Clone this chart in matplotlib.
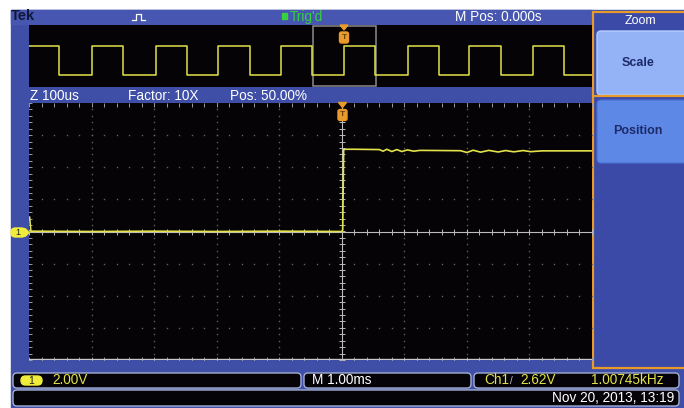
import numpy as np
import matplotlib
matplotlib.use('Agg')
import matplotlib.pyplot as plt
from matplotlib.patches import Rectangle, FancyBboxPatch, Polygon

plt.rcParams['font.family'] = ['Liberation Sans', 'DejaVu Sans']

# zoomed window trace, ch1 (time in us, volts)
zoom_t = [-500, -499, -497, -400, -300, -200, -100, 0, 1.5, 3, 6, 20, 60, 66, 72, 80, 88, 96, 105,
          115, 125, 160, 190, 200, 210, 222, 235, 250, 262, 275, 290, 302, 320, 360, 400]
zoom_v = [0.9, 0.9, 0.02, 0.0, 0.02, 0.0, 0.02, 0.0, 0.1, 5.1, 5.12, 5.12, 5.1, 5.0, 5.12, 4.98, 5.1,
          4.98, 5.08, 5.0, 5.05, 5.04, 5.03, 4.92, 5.06, 4.94, 5.05, 4.95, 5.04, 4.96, 5.04, 4.97,
          5.02, 5.02, 5.02]

# overview record edges (ms)
rise_ms = [-4.99, -3.99, -2.97, -1.98, -0.97, 0.04, 1.06, 2.04, 3.06]
fall_ms = [-4.52, -3.50, -2.48, -1.47, -0.47, 0.53, 1.55, 2.54, 3.55]
v_high, v_low = 5.0, 0.0

zoom_factor = 10
zoom_div_us = 100
trig_ms = 0.04

header = {'mpos': 'M Pos: 0.000s', 'trig': "Trig'd"}
zoom_labels = ['Z 100us', 'Factor: 10X', 'Pos: 50.00%']
status = ['2.00V', 'M 1.00ms', 'Ch1', '2.62V', '1.00745kHz']
date_str = 'Nov 20, 2013, 13:19'

BLUE = '#3f4ea6'
YEL = '#e2e24a'
ORANGE = '#e89a2a'
FS = 9.8

fig = plt.figure(figsize=(6.84, 4.08), dpi=100)
fig.patch.set_facecolor('white')

bg = fig.add_axes([0, 0, 1, 1])
bg.set_xlim(0, 684)
bg.set_ylim(408, 0)
bg.axis('off')

# screen surround
bg.add_patch(Rectangle((11, 10), 673, 398, color=BLUE, zorder=0))
bg.add_patch(Rectangle((11, 10), 581, 14, color='#4756b0', zorder=0.5))

# header row
bg.text(11, 16, 'Tek', color='#10183a', fontsize=10.5, fontweight='bold', va='center')
bg.plot([132, 136, 136, 141, 141, 145], [20, 20, 13.5, 13.5, 20, 20], color='white', lw=0.9)
bg.add_patch(Rectangle((282, 13), 5, 6, color='#36d040'))
bg.text(290, 17, header['trig'], color='#36d040', fontsize=FS, va='center')
bg.text(455, 17, header['mpos'], color='white', fontsize=FS, va='center')

# zoom label row
for x, s in zip([30, 128, 230], zoom_labels):
    bg.text(x, 96, s, color='white', fontsize=FS, va='center')

# right menu panel
bg.add_patch(Rectangle((593, 12), 95, 356, facecolor='#3b4aa6', edgecolor=ORANGE, lw=1.6, zorder=1))
bg.text(640, 21, 'Zoom', color='white', fontsize=9, ha='center', va='center', zorder=3)
bg.add_patch(FancyBboxPatch((597, 31), 90, 64, boxstyle='round,pad=0,rounding_size=4',
                            facecolor='#94b2f6', edgecolor='#b4ccff', lw=1.0, zorder=2))
bg.plot([595, 684], [96, 96], color=ORANGE, lw=1.6, zorder=2.5)
bg.text(638, 63, 'Scale', color='#1c2a6a', fontsize=9, fontweight='bold', ha='center', va='center', zorder=3)
bg.add_patch(FancyBboxPatch((597, 100), 90, 63, boxstyle='round,pad=0,rounding_size=4',
                            facecolor='#5e88e6', edgecolor='#4a70d0', lw=0.8, zorder=2))
bg.text(638, 131, 'Position', color='#1c2a6a', fontsize=9, fontweight='bold', ha='center', va='center', zorder=3)

# status bars
def bar(x0, x1, y0, y1):
    bg.add_patch(FancyBboxPatch((x0, y0), x1 - x0, y1 - y0, boxstyle='round,pad=0,rounding_size=4',
                                facecolor='#050308', edgecolor='#a4aed0', lw=1.0, zorder=2))

bar(13, 301, 373, 388)
bar(304, 471, 373, 388)
bar(474, 679, 373, 388)
bar(13, 679, 390, 406)
bg.add_patch(FancyBboxPatch((21, 376), 21, 9, boxstyle='round,pad=0,rounding_size=4.5',
                            color='#f0ec3a', zorder=3))
bg.text(31.5, 380.8, '1', color='#202020', fontsize=7.5, ha='center', va='center', zorder=4)
bg.text(52, 380.5, status[0], color=YEL, fontsize=FS, va='center', zorder=4)
bg.text(312, 380.5, status[1], color='white', fontsize=FS, va='center', zorder=4)
bg.text(484, 380.5, status[2], color=YEL, fontsize=FS, va='center', zorder=4)
bg.text(510, 380.5, '/', color='#c8c8c8', fontsize=7, va='center', zorder=4)
bg.text(520, 380.5, status[3], color=YEL, fontsize=FS, va='center', zorder=4)
bg.text(664, 380.5, status[4], color=YEL, fontsize=FS, va='center', ha='right', zorder=4)
bg.text(674, 398.5, date_str, color='white', fontsize=FS, va='center', ha='right', zorder=4)

# ch1 ground marker
bg.add_patch(FancyBboxPatch((11, 228), 15, 9, boxstyle='round,pad=0,rounding_size=4.5',
                            color='#f0ec3a', zorder=3))
bg.add_patch(Polygon([[25, 228.5], [29, 232.5], [25, 236.5]], color='#f0ec3a', zorder=3))
bg.text(18, 232.5, '1', color='#202020', fontsize=6.5, ha='center', va='center', zorder=4)

# overview
ov = fig.add_axes([29 / 684, 1 - 87 / 408, 563 / 684, 62 / 408])
ov.set_facecolor('#060306')
ov.set_xlim(-5.0, 4.0)
ov.set_ylim(-2.1, 8.6)
ov.set_xticks([])
ov.set_yticks([])
for s in ov.spines.values():
    s.set_visible(False)
edges = sorted([(t, v_high) for t in rise_ms] + [(t, v_low) for t in fall_ms])
ot = [-5.0]
ovv = [v_high]
for t, v in edges:
    ot += [t, t]
    ovv += [ovv[-1], v]
ot.append(4.0)
ovv.append(ovv[-1])
ov.plot(ot, ovv, color=YEL, lw=1.1)
span = zoom_factor * zoom_div_us / 1000
ov.add_patch(Rectangle((trig_ms - span / 2, -2.0), span, 10.5, fill=False, edgecolor='#8c8c8c', lw=1.1))

# main zoomed view
ax = fig.add_axes([29 / 684, 1 - 360 / 408, 563 / 684, 257 / 408])
ax.set_facecolor('#060306')
ax.set_xlim(-500, 400)
ax.set_ylim(-8, 8)
ax.set_xticks([])
ax.set_yticks([])
for s in ax.spines.values():
    s.set_visible(False)

dot = dict(ls='none', marker='s', ms=1.0, mew=0, color='#626262')
minor_x = np.arange(-500, 401, 20)
minor_y = np.arange(-8, 8.01, 0.4)
for gx in range(-400, 400, 100):
    if gx != 0:
        ax.plot(np.full(minor_y.size, gx), minor_y, **dot)
for gy in [-6, -4, -2, 2, 4, 6]:
    ax.plot(minor_x, np.full(minor_x.size, gy), **dot)
# center cross and borders with ticks
ax.axhline(0, color='#bcbcbc', lw=0.8)
ax.axvline(0, color='#bcbcbc', lw=0.8)
ax.plot(minor_x, np.zeros(minor_x.size), ls='none', marker='|', ms=4, mew=0.7, color='#bcbcbc')
ax.plot(np.zeros(minor_y.size), minor_y, ls='none', marker='_', ms=4, mew=0.7, color='#bcbcbc')
ax.plot(minor_x, np.full(minor_x.size, 7.9), ls='none', marker='|', ms=3, mew=0.7, color='#9a9a9a')
ax.plot(minor_x, np.full(minor_x.size, -7.95), ls='none', marker='|', ms=3, mew=0.7, color='#9a9a9a')
ax.axhline(-7.95, color='#c8c8c8', lw=1.0)
ax.plot(np.full(minor_y.size, -498), minor_y, ls='none', marker='_', ms=3, mew=0.7, color='#9a9a9a')

ax.plot(zoom_t, zoom_v, color=YEL, lw=1.2, zorder=5)

# trigger position markers, drawn over both views
top = fig.add_axes([0, 0, 1, 1])
top.set_xlim(0, 684)
top.set_ylim(408, 0)
top.axis('off')
top.patch.set_alpha(0)
for cx, y0 in [(342.5, 102.5), (344, 25)]:
    top.add_patch(Polygon([[cx - 4, y0], [cx + 4, y0], [cx, y0 + 5]], color=ORANGE, zorder=6))
    top.add_patch(FancyBboxPatch((cx - 4.5, y0 + 7), 9, 11, boxstyle='round,pad=0,rounding_size=2',
                                 color=ORANGE, zorder=6))
    top.text(cx, y0 + 12.5, 'T', color='#6a4010', fontsize=6, fontweight='bold', ha='center', va='center', zorder=7)

fig.savefig('out.png', dpi=100, facecolor=fig.get_facecolor())
